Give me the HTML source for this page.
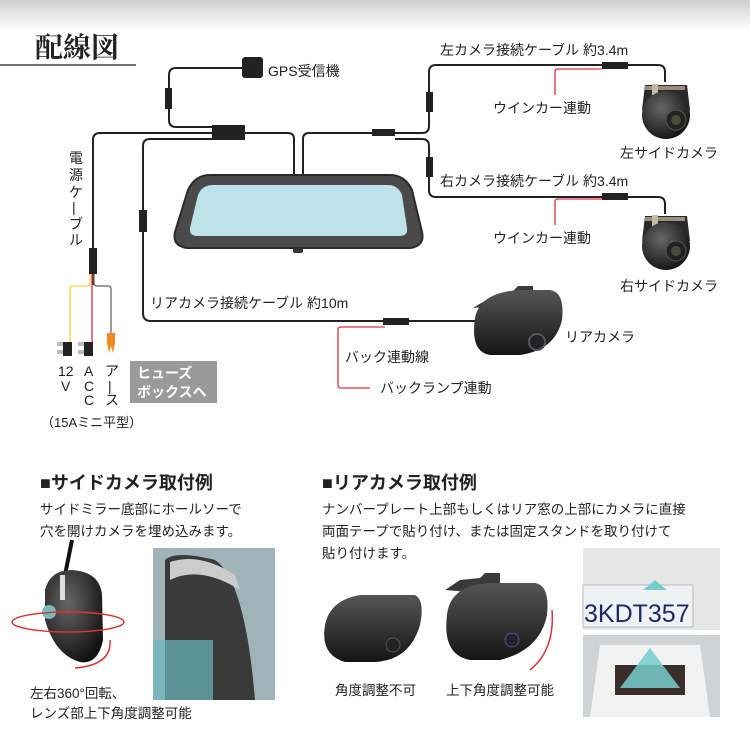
<!DOCTYPE html>
<html><head><meta charset="utf-8"><style>
body{margin:0;width:750px;height:750px;overflow:hidden;background:#fff;}
svg{display:block}
text{font-family:"Liberation Sans","Noto Sans CJK JP",sans-serif;fill:#222}
</style></head><body>
<svg width="750" height="750" viewBox="0 0 750 750" xmlns="http://www.w3.org/2000/svg">
<defs>
<linearGradient id="top" x1="0" y1="0" x2="0" y2="1"><stop offset="0" stop-color="#cfcfcf"/><stop offset="1" stop-color="#fff"/></linearGradient>
<radialGradient id="cam" cx="0.4" cy="0.35" r="0.7"><stop offset="0" stop-color="#666"/><stop offset="1" stop-color="#111"/></radialGradient>
<linearGradient id="rc" x1="0" y1="0" x2="0" y2="1"><stop offset="0" stop-color="#555"/><stop offset="1" stop-color="#151515"/></linearGradient>
</defs>
<rect width="750" height="30" fill="url(#top)"/>
<text x="35" y="57" style="font-family:'Noto Serif CJK SC','Liberation Serif',serif;font-weight:bold;font-size:28px" fill="#222">配線図</text>
<line x1="0" y1="65" x2="136" y2="65" stroke="#222" stroke-width="1.2"/>

<g fill="none" stroke="#222" stroke-width="2">
<path d="M242 68 H176 q-7 0 -7 7 V120 q0 7 7 7 H215"/>
<path d="M215 133 H100 q-7 0 -7 7 V285"/>
<path d="M245 133 H288 q6 0 6 6 V176"/>
<path d="M215 139 H150 q-7 0 -7 7 V313 q0 8 8 8 H478"/>
<path d="M303 176 V139 q0 -6 6 -6 H422 q7 0 7 -7 V72 q0 -7 7 -7 H658 q7 0 7 7 V82"/>
<path d="M395 139 H422 q7 0 7 7 V190 q0 7 7 7 H658 q7 0 7 7 V214"/>
</g>
<g fill="#222">
<rect x="242" y="57" width="21" height="21" rx="3"/>
<rect x="165" y="88" width="7" height="21"/>
<rect x="212" y="125" width="33" height="15"/>
<rect x="89" y="248" width="8" height="26"/>
<rect x="139" y="210" width="8" height="22"/>
<rect x="383" y="318" width="26" height="7"/>
<rect x="372" y="129" width="23" height="7"/>
<rect x="426" y="92" width="7" height="20"/>
<rect x="426" y="157" width="7" height="20"/>
<rect x="602" y="62" width="26" height="7"/>
<rect x="602" y="193" width="26" height="7"/>
</g>
<g fill="none" stroke="#e0303a" stroke-width="1.3">
<path d="M602 69 H558 q-3 0 -3 3 V95"/>
<path d="M602 199 H558 q-3 0 -3 3 V225"/>
<path d="M385 327 H341 q-3 0 -3 3 V385 q0 3 3 3 H370"/>
<path d="M92 274 V342"/>
</g>
<path d="M90 274 V283 q0 3 -3 3 H73 q-3 0 -3 3 V342" fill="none" stroke="#f2d13a" stroke-width="1.3"/>
<path d="M94 274 V283 q0 3 3 3 H108 q3 0 3 3 V335" fill="none" stroke="#666" stroke-width="1.3"/>
<path d="M107 333 h8 v10 l-2 10 l-2 -7 l-2 7 l-2 -10z" fill="#f08a20"/>
<rect x="57" y="342" width="6" height="4" fill="#bbb"/><rect x="57" y="350" width="6" height="4" fill="#bbb"/>
<rect x="63" y="342" width="9" height="14" fill="#222"/>
<rect x="78" y="342" width="6" height="4" fill="#bbb"/><rect x="78" y="350" width="6" height="4" fill="#bbb"/>
<rect x="84" y="342" width="9" height="14" fill="#222"/>

<g font-size="14">
<text x="58" y="376">12</text><text x="61" y="391">V</text>
<text x="84" y="376">A</text><text x="84" y="391">C</text><text x="84" y="405">C</text>
<text x="105" y="376">ア</text><text x="108" y="391">|</text><text x="105" y="405">ス</text>
</g>
<rect x="130" y="361" width="87" height="42" fill="#9a9a9a"/>
<text x="137" y="378" font-size="14" font-weight="bold" style="fill:#fff">ヒューズ</text>
<text x="137" y="397" font-size="14" font-weight="bold" style="fill:#fff">ボックスへ</text>
<text x="41" y="427" font-size="13">（15Aミニ平型）</text>
<g font-size="14">
<text x="69" y="163">電</text><text x="69" y="180">源</text><text x="69" y="197">ケ</text><text x="72" y="212">|</text><text x="69" y="229">ブ</text><text x="69" y="245">ル</text>
</g>

<path d="M210 175 H390 q15 0 22 15 L422 232 q3 14 -12 16 H187 q-15 -2 -12 -16 L188 190 q7 -15 22 -15z" fill="#4a4a4a" stroke="#2a2a2a" stroke-width="2"/>
<path d="M213 185 H388 q10 0 14 10 L407 228 q1 8 -7 8 H197 q-8 0 -7 -8 L198 195 q4 -10 15 -10z" fill="#bde2e8"/>
<rect x="293" y="248" width="10" height="5" rx="2" fill="#333"/>

<g font-size="14">
<text x="268" y="76">GPS受信機</text>
<text x="440" y="55">左カメラ接続ケーブル  約3.4m</text>
<text x="440" y="186">右カメラ接続ケーブル  約3.4m</text>
<text x="493" y="113">ウインカー連動</text>
<text x="493" y="243">ウインカー連動</text>
<text x="620" y="158">左サイドカメラ</text>
<text x="620" y="291">右サイドカメラ</text>
<text x="150" y="308">リアカメラ接続ケーブル 約10m</text>
<text x="565" y="342">リアカメラ</text>
<text x="345" y="362">バック連動線</text>
<text x="380" y="393">バックランプ連動</text>
</g>

<g id="sc">
<path d="M645 85 h42 l3 25 h-48z" fill="#2a2a2a"/>
<rect x="652" y="84" width="6" height="20" fill="#c9b8a0"/>
<rect x="645" y="86" width="40" height="4" fill="#c9b8a0" opacity="0.7"/>
<circle cx="666" cy="115" r="24" fill="url(#cam)"/>
<circle cx="676" cy="120" r="10" fill="#222" stroke="#555"/>
<circle cx="676" cy="120" r="5" fill="#4a4a3a"/>
</g>
<use href="#sc" transform="translate(0,131)"/>

<path d="M473 308 l20 -12 l20 -5 l5 -5 l15 0 v10 l-20 8z" fill="#3a3a3a"/>
<path d="M475 318 Q480 292 520 290 H550 Q565 292 562 320 Q555 350 520 355 H490 Q470 352 475 318z" fill="url(#rc)"/>
<circle cx="537" cy="342" r="8" fill="#222" stroke="#556" stroke-width="2"/>

<text x="40" y="489" font-size="18" font-weight="bold">■サイドカメラ取付例</text>
<text x="322" y="489" font-size="18" font-weight="bold">■リアカメラ取付例</text>
<g font-size="13.5">
<text x="40" y="514">サイドミラー底部にホールソーで</text>
<text x="40" y="536">穴を開けカメラを埋め込みます。</text>
<text x="322" y="514">ナンバープレート上部もしくはリア窓の上部にカメラに直接</text>
<text x="322" y="536">両面テープで貼り付け、または固定スタンドを取り付けて</text>
<text x="322" y="558">貼り付けます。</text>
<text x="30" y="698">左右360°回転、</text>
<text x="30" y="718">レンズ部上下角度調整可能</text>
<text x="335" y="695">角度調整不可</text>
<text x="446" y="695">上下角度調整可能</text>
</g>
<line x1="72" y1="540" x2="65" y2="575" stroke="#111" stroke-width="4"/>
<path d="M45 590 Q50 570 72 570 Q100 572 102 595 L103 640 Q98 665 80 662 Q55 655 45 620z" fill="url(#cam)"/>
<rect x="60" y="575" width="5" height="25" fill="#ddd"/>
<circle cx="49" cy="612" r="7" fill="#7bb"/>
<ellipse cx="68" cy="622" rx="56" ry="10" fill="none" stroke="#d33" stroke-width="1.5"/>
<path d="M110 640 Q112 665 75 668" fill="none" stroke="#d33" stroke-width="1.5"/>
<rect x="153" y="548" width="122" height="152" fill="#9fb3b8"/>
<path d="M165 560 Q175 550 215 560 Q245 580 255 700 H165z" fill="#3a3a3a"/>
<path d="M170 562 Q200 552 235 575 L240 590 Q200 565 170 580z" fill="#ccc"/>
<path d="M153 640 h60 v60 h-60z" fill="#6bb6c0" opacity="0.7"/>
<path d="M325 625 Q330 600 360 595 H415 Q425 600 420 625 Q410 660 375 662 H345 Q320 655 325 625z" fill="url(#rc)"/>
<circle cx="393" cy="645" r="7" fill="#222" stroke="#555"/>
<path d="M445 590 l15 -10 l20 -2 l5 -5 l15 0 v12 l-20 8z" fill="#3a3a3a"/>
<path d="M447 615 Q450 585 490 583 H535 Q550 585 547 615 Q540 650 500 660 H470 Q442 655 447 615z" fill="url(#rc)"/>
<circle cx="512" cy="640" r="7" fill="#223" stroke="#556"/>
<path d="M552 610 Q555 650 530 670" fill="none" stroke="#d33" stroke-width="1.5"/>
<rect x="583" y="548" width="137" height="82" fill="#e6e6e6"/>
<rect x="583" y="585" width="110" height="42" fill="#eef2f4" stroke="#bbb"/>
<text x="584" y="622" font-size="25" style="fill:#1c2a6a;font-family:'Liberation Sans Narrow','Liberation Sans',sans-serif">3KDT357</text>
<path d="M655 580 l-12 10 h24z" fill="#7cc"/>
<rect x="583" y="635" width="137" height="82" fill="#cfd3d6"/>
<path d="M600 645 h100 l10 72 h-120z" fill="#f2f2f2"/>
<rect x="615" y="665" width="70" height="30" fill="#3a2e2a"/>
<path d="M650 648 l-30 40 h60z" fill="#7cc" opacity="0.85"/>
</svg>
</body></html>
